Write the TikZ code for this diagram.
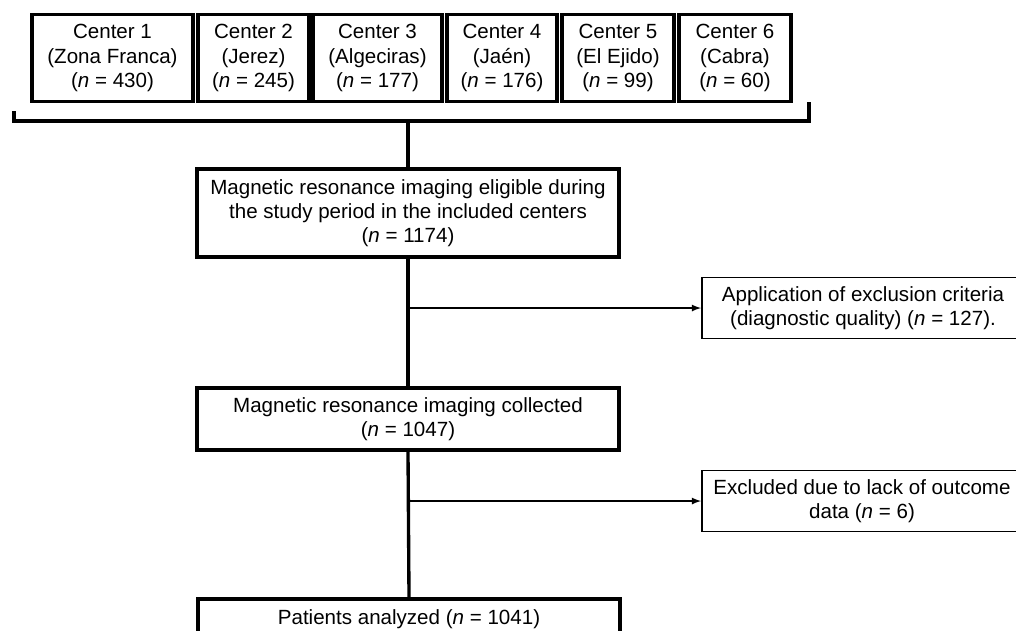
\documentclass[tikz,border=0pt]{standalone}
\usepackage{fontspec}
\setmainfont{Liberation Sans}
\usetikzlibrary{positioning}

\tikzset{
  center/.style={draw,rectangle,line width=2.2pt,inner sep=0pt,align=center,minimum height=87*0.02cm},
  mainbox/.style={draw,rectangle,line width=2.2pt,inner sep=0pt,align=center,minimum height=62*0.02cm},
  exclbox/.style={draw,rectangle,line width=1.1pt,inner sep=0pt,align=center,minimum height=61*0.02cm},
  trunk/.style={line width=1.9pt},
  excl/.style={line width=0.8pt,-latex}
}
\newcommand{\nn}{\textit{n}}

\begin{document}
\begin{tikzpicture}[x=0.02cm,y=-0.02cm,font=\fontsize{11.7}{13.8}\selectfont]
\clip (0,0) rectangle (1016,630);
\useasboundingbox (0,0) rectangle (1016,630);
% centers
\node[center,minimum width=161*0.02cm] (c1) at (112.5,58) {Center 1\\(Zona Franca)\\(\nn{} = 430)};
\node[center,minimum width=111*0.02cm] (c2) at (253.5,58) {Center 2\\(Jerez)\\(\nn{} = 245)};
\node[center,minimum width=129*0.02cm] (c3) at (377.5,58) {Center 3\\(Algeciras)\\(\nn{} = 177)};
\node[center,minimum width=110*0.02cm] (c4) at (502,58) {Center 4\\(Jaén)\\(\nn{} = 176)};
\node[center,minimum width=112*0.02cm] (c5) at (618,58) {Center 5\\(El Ejido)\\(\nn{} = 99)};
\node[center,minimum width=112*0.02cm] (c6) at (735,58) {Center 6\\(Cabra)\\(\nn{} = 60)};
% bracket
\coordinate (bl) at (14,111);
\coordinate (br) at (809,102);
\coordinate (brk) at (408,121);
\draw[trunk] (bl) -- (bl |- brk) -- (br |- brk) -- (br);

% flow
\node[mainbox,minimum width=422*0.02cm,minimum height=88*0.02cm] (elig) at (408,213) {Magnetic resonance imaging eligible during\\the study period in the included centers\\(\nn{} = 1174)};
\node[exclbox,minimum width=322*0.02cm] (ex1) at (863,308) {Application of exclusion criteria\\(diagnostic quality) (\nn{} = 127).};
\node[mainbox,minimum width=422*0.02cm] (coll) at (408,419) {Magnetic resonance imaging collected\\(\nn{} = 1047)};
\node[exclbox,minimum width=320*0.02cm] (ex2) at (862,501) {Excluded due to lack of outcome\\data (\nn{} = 6)};
\node[mainbox,anchor=north,minimum width=422*0.02cm,minimum height=0pt,
  inner ysep=0.22cm,text height=0.3cm,text depth=1cm] (pat) at (409,597) {Patients analyzed (\nn{} = 1041)};

\draw[trunk] (brk) -- (elig.north -| brk);
\draw[trunk] (elig.south) -- (coll.north);
\draw[trunk] (coll.south) -- (pat.north);
\coordinate (j1) at (elig.south |- ex1.west);
\coordinate (j2) at (coll.south |- ex2.west);
\draw[excl] (j1) -- (ex1.west);
\draw[excl] (j2) -- (ex2.west);
\end{tikzpicture}
\end{document}
